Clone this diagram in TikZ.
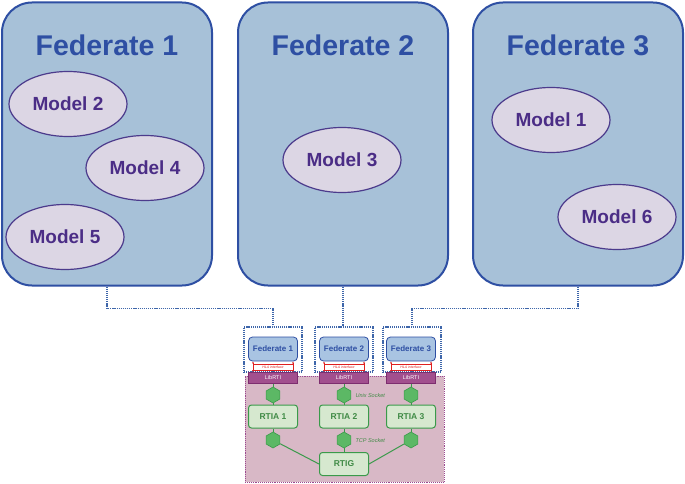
\documentclass[tikz,border=0pt]{standalone}
\usepackage{fontspec}
\setmainfont{Liberation Sans}
\usepackage{tikz}
\usetikzlibrary{shapes.geometric, positioning, arrows.meta}

\definecolor{fedfill}{HTML}{A7C1D8}
\definecolor{fedline}{HTML}{2E4FA3}
\definecolor{modfill}{HTML}{DCD6E4}
\definecolor{modline}{HTML}{4C3B8C}
\definecolor{modtext}{HTML}{4B2D86}
\definecolor{sfedfill}{HTML}{A9C4E2}
\definecolor{linkcol}{HTML}{3E66AA}
\definecolor{libfill}{HTML}{A24F8E}
\definecolor{libline}{HTML}{7D2D6F}
\definecolor{rtifill}{HTML}{D8B8C6}
\definecolor{rtiline}{HTML}{9B4A90}
\definecolor{hexfill}{HTML}{5CB865}
\definecolor{hexline}{HTML}{3A9A4A}
\definecolor{rtiafill}{HTML}{D6E8CF}
\definecolor{rtiatext}{HTML}{3F8A45}
\definecolor{hlared}{HTML}{E02020}

\begin{document}
\begin{tikzpicture}[x=1pt, y=-1pt,
		fedbox/.style={draw=fedline, line width=2pt, fill=fedfill, rounded corners=30pt,
			minimum width=210pt, minimum height=283pt},
		fedtitle/.style={text=fedline, font=\fontsize{28.5}{30}\selectfont\bfseries},
		model/.style={ellipse, draw=modline, line width=1.2pt, fill=modfill, text=modtext,
			minimum width=118pt, minimum height=65pt, font=\fontsize{19}{21}\selectfont\bfseries},
		link/.style={dash pattern=on 1.2pt off 0.9pt, draw=linkcol, line width=1.4pt},
		sfed/.style={draw=fedline, line width=0.8pt, fill=sfedfill, rounded corners=4pt,
			minimum width=49pt, minimum height=24pt, inner sep=0pt, text=fedline,
			font=\fontsize{8}{9}\selectfont\bfseries},
		hla/.style={draw=hlared, line width=0.4pt, minimum width=40pt, minimum height=6pt,
			inner sep=0pt, text=hlared, font=\fontsize{3.5}{4}\selectfont\itshape},
		hlaarrow/.style={draw=hlared, line width=0.7pt, {Latex[length=2pt,width=2pt]}-{Latex[length=2pt,width=2pt]}},
		lib/.style={draw=libline, line width=0.7pt, fill=libfill, minimum width=49pt,
			minimum height=11pt, inner sep=0pt, text=white, font=\fontsize{5.5}{6}\selectfont},
		hex/.style={regular polygon, regular polygon sides=6, shape border rotate=30,
			draw=hexline, line width=0.6pt, fill=hexfill, minimum size=16pt, inner sep=0pt},
		rtia/.style={draw=hexline, line width=1pt, fill=rtiafill, rounded corners=3pt,
			minimum width=49pt, minimum height=23pt, inner sep=0pt, text=rtiatext,
			font=\fontsize{8.5}{9}\selectfont\bfseries},
		wire/.style={draw=hexline, line width=1pt},
		socket/.style={anchor=west, text=rtiatext, font=\fontsize{5.5}{6}\selectfont\itshape}
	]
		\useasboundingbox (0,0) rectangle (685,484);
		
		% Federates
		\node[fedbox] (fed1) at (107,144) {};
		\node[fedbox] (fed2) at (343,144) {};
		\node[fedbox] (fed3) at (578,144) {};
		\node[fedtitle] (fed1title) at (107,45) {Federate 1};
		\node[fedtitle] (fed2title) at (343,45) {Federate 2};
		\node[fedtitle] (fed3title) at (578,45) {Federate 3};
		
		% Models
		\node[model] (model2) at (68,104) {Model 2};
		\node[model] (model4) at (145,168) {Model 4};
		\node[model] (model5) at (65,237) {Model 5};
		\node[model] (model3) at (342,160) {Model 3};
		\node[model] (model1) at (551,120) {Model 1};
		\node[model] (model6) at (617,217) {Model 6};
		
		% RTI area
		\node[draw=rtiline, densely dotted, line width=0.9pt, fill=rtifill, minimum width=199pt,
			minimum height=106pt] (rti) at (344.5,429) {};
		
		% Small federate frames
		\node[link, minimum width=58pt, minimum height=45pt] (sbox1) at (273,349.5) {};
		\node[link, minimum width=58pt, minimum height=45pt] (sbox2) at (344,349.5) {};
		\node[link, minimum width=58pt, minimum height=45pt] (sbox3) at (412,349.5) {};
		
		% Links to the frames
		\draw[link] (fed1.south) -- ++(0,22) coordinate (bend1) -| (sbox1.north);
		\draw[link] (fed2.south) -- (fed2.south |- sbox2.north);
		\draw[link] (fed3.south) -- ++(0,22) coordinate (bend3) -| (sbox3.north);
		
		% Federates, interfaces and LibRTI
		\foreach \i/\x in {1/273, 2/344, 3/411} {
			\node[sfed] (sfed\i) at (\x,349) {Federate \i};
			\node[lib] (lib\i) at (\x,378) {LibRTI};
			\node[hla] (hla\i) at (\x,367) {HLA interface};
			\draw[hlaarrow] ([xshift=-20pt]sfed\i.south) -- ([xshift=-20pt]lib\i.north);
			\draw[hlaarrow] ([xshift=20pt]sfed\i.south) -- ([xshift=20pt]lib\i.north);
			\node[hex] (hexa\i) at (\x,395) {};
			\node[rtia] (rtia\i) at (\x,416.5) {RTIA \i};
			\node[hex] (hexb\i) at (\x,440) {};
			\draw[wire] (lib\i) -- (hexa\i) -- (rtia\i) -- (hexb\i);
		}
		
		% RTIG
		\node[rtia] (rtig) at (344,464) {RTIG};
		\draw[wire] (hexb1) -- (rtig.west);
		\draw[wire] (hexb2) -- (rtig.north);
		\draw[wire] (hexb3) -- (rtig.east);
		
		% Socket labels
		\node[socket] (unix) at (352,396) {Unix Socket};
		\node[socket] (tcp) at (352,441) {TCP Socket};
		
	\end{tikzpicture}
\end{document}
